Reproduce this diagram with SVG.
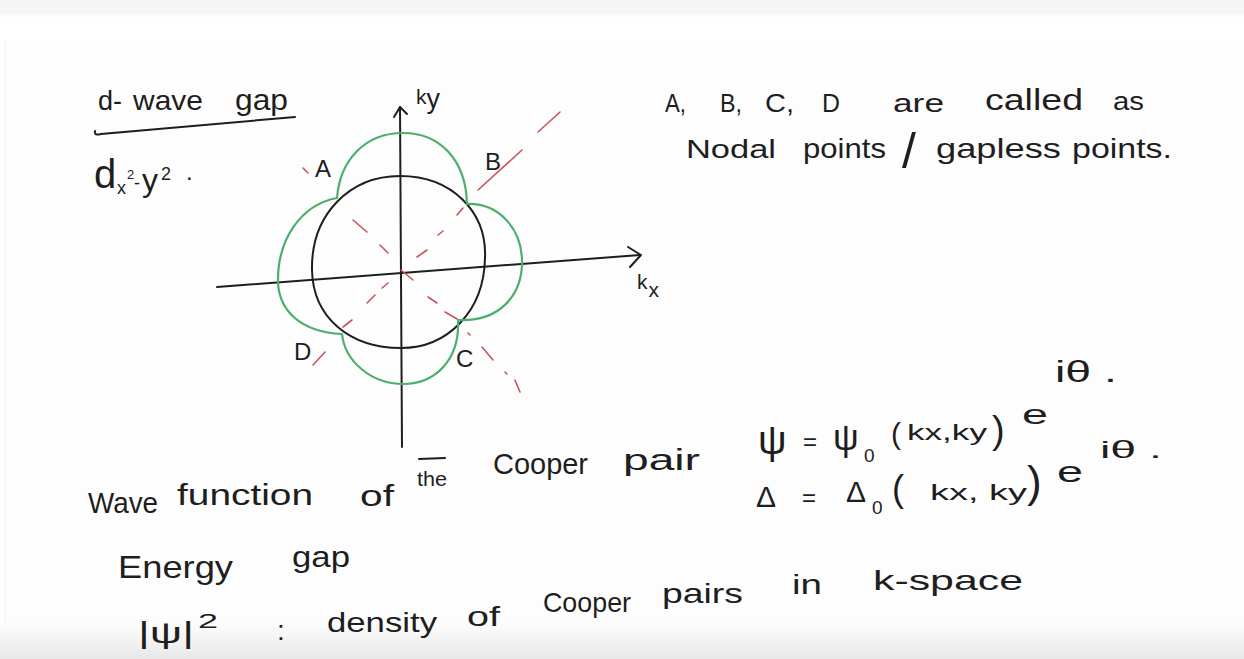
<svg xmlns="http://www.w3.org/2000/svg" width="1244" height="659" viewBox="0 0 1244 659">
<defs>
<linearGradient id="topg" x1="0" y1="0" x2="0" y2="1"><stop offset="0" stop-color="#f4f4f4"/><stop offset="0.7" stop-color="#f6f6f6"/><stop offset="1" stop-color="#ffffff"/></linearGradient>
<linearGradient id="botg" x1="0" y1="0" x2="0" y2="1"><stop offset="0" stop-color="#fdfdfd"/><stop offset="1" stop-color="#e8e8e8"/></linearGradient>
<style>
.t{font-family:"Liberation Sans","DejaVu Sans",sans-serif;fill:#1e1e1e}
.ln{stroke:#1e1e1e;stroke-width:2;fill:none;stroke-linecap:round;stroke-linejoin:round}
.gr{stroke:#4cae6c;stroke-width:2.2;fill:none;stroke-linejoin:round}
.rd{stroke:#c8545a;stroke-width:1.6;fill:none;stroke-linecap:round}
</style>
</defs>
<rect width="1244" height="659" fill="#ffffff"/>
<rect width="1244" height="18" fill="url(#topg)"/>
<rect x="5" y="40" width="1239" height="590" fill="#fdfdfd"/>
<line x1="5" y1="40" x2="5" y2="630" stroke="#f0f0f0" stroke-width="1"/>
<rect y="622" width="1244" height="37" fill="url(#botg)"/>

<g id="title">
<text class="t" x="98" y="110" font-size="28" textLength="24" lengthAdjust="spacingAndGlyphs">d-</text>
<text class="t" x="133" y="110" font-size="28" textLength="70" lengthAdjust="spacingAndGlyphs">wave</text>
<text class="t" x="235" y="110" font-size="30" textLength="53" lengthAdjust="spacingAndGlyphs">gap</text>
<path class="ln" d="M95,131 Q94,136 101,134 L295,117"/>
</g>

<g id="dsymbol">
<text class="t" x="94" y="188" font-size="40">d</text>
<text class="t" x="117" y="194" font-size="18">x</text>
<text class="t" x="127" y="179" font-size="13">2</text>
<text class="t" x="134" y="189" font-size="18">-</text>
<text class="t" x="142" y="191" font-size="32">y</text>
<text class="t" x="161" y="180" font-size="18">2</text>
<text class="t" x="186" y="180" font-size="24">.</text>
</g>

<g id="diagram">
<g id="axes">
<path class="ln" d="M402,447 L400,107"/>
<path class="ln" d="M394,117 L400,107 L407,114"/>
<path class="ln" d="M217,287 L640,255"/>
<path class="ln" d="M628,247 L641,255 L630,267"/>
<text class="t" x="416" y="104" font-size="21">k<tspan font-size="27" dy="4">y</tspan></text>
<text class="t" x="637" y="289" font-size="21">k<tspan font-size="21" dx="1" dy="8">x</tspan></text>
</g>
<path id="fermi" class="ln" d="M312,270 C311,214 350,176 400,176 C452,176 487,212 485,258 C484,312 447,348 401,348 C350,348 313,318 312,270 Z"/>
<path id="gap" class="gr" d="M337,198 C340,160 365,133 403,133 C440,133 466,160 467,204 C500,203 522,230 522,262 C522,295 500,322 458,320 C460,360 435,384 403,384 C372,384 345,362 342,334 C300,332 278,310 278,280 C278,240 300,205 337,198 Z"/>
<g id="nodal-lines">
<line class="rd" x1="417" y1="257" x2="427" y2="250"/>
<line class="rd" x1="438" y1="235" x2="443" y2="231"/>
<line class="rd" x1="457" y1="215" x2="463" y2="208"/>
<line class="rd" x1="478" y1="190" x2="522" y2="150"/>
<line class="rd" x1="538" y1="132" x2="560" y2="112"/>
<line class="rd" x1="303" y1="168" x2="308" y2="173"/>
<line class="rd" x1="353" y1="220" x2="367" y2="232"/>
<line class="rd" x1="380" y1="245" x2="388" y2="253"/>
<line class="rd" x1="388" y1="283" x2="382" y2="288"/>
<line class="rd" x1="375" y1="295" x2="367" y2="303"/>
<line class="rd" x1="352" y1="320" x2="343" y2="327"/>
<line class="rd" x1="325" y1="352" x2="313" y2="365"/>
<line class="rd" x1="401" y1="270" x2="413" y2="280"/>
<line class="rd" x1="428" y1="297" x2="437" y2="303"/>
<line class="rd" x1="445" y1="312" x2="457" y2="319"/>
<line class="rd" x1="468" y1="333" x2="470" y2="335"/>
<line class="rd" x1="482" y1="347" x2="493" y2="360"/>
<line class="rd" x1="505" y1="372" x2="507" y2="374"/>
<line class="rd" x1="515" y1="380" x2="520" y2="392"/>
</g>
<text class="t" x="315" y="177" font-size="24">A</text>
<text class="t" x="485" y="170" font-size="24">B</text>
<text class="t" x="456" y="367" font-size="24">C</text>
<text class="t" x="294" y="360" font-size="24">D</text>
</g>

<g id="nodal-note">
<text class="t" x="665" y="112" font-size="26" textLength="21" lengthAdjust="spacingAndGlyphs">A,</text>
<text class="t" x="720" y="112" font-size="26" textLength="22" lengthAdjust="spacingAndGlyphs">B,</text>
<text class="t" x="765" y="112" font-size="26" textLength="29" lengthAdjust="spacingAndGlyphs">C,</text>
<text class="t" x="822" y="112" font-size="26" textLength="18" lengthAdjust="spacingAndGlyphs">D</text>
<text class="t" x="893" y="112" font-size="26" textLength="51" lengthAdjust="spacingAndGlyphs">are</text>
<text class="t" x="985" y="110" font-size="30" textLength="98" lengthAdjust="spacingAndGlyphs">called</text>
<text class="t" x="1113" y="110" font-size="26" textLength="31" lengthAdjust="spacingAndGlyphs">as</text>
<text class="t" x="686" y="158" font-size="26" textLength="90" lengthAdjust="spacingAndGlyphs">Nodal</text>
<text class="t" x="803" y="158" font-size="28" textLength="83" lengthAdjust="spacingAndGlyphs">points</text>
<text class="t" x="902" y="168" font-size="50">/</text>
<text class="t" x="936" y="158" font-size="28" textLength="125" lengthAdjust="spacingAndGlyphs">gapless</text>
<text class="t" x="1072" y="158" font-size="28" textLength="100" lengthAdjust="spacingAndGlyphs">points.</text>
</g>

<g id="eq-psi">
<text class="t" x="758" y="454" font-size="40">ψ</text>
<text class="t" x="803" y="450" font-size="24">=</text>
<text class="t" x="833" y="450" font-size="36">ψ</text>
<text class="t" x="864" y="462" font-size="19">0</text>
<text class="t" x="891" y="444" font-size="30">(</text>
<text class="t" x="907" y="440" font-size="22" textLength="80" lengthAdjust="spacingAndGlyphs">kx,ky</text>
<text class="t" x="992" y="443" font-size="38">)</text>
<text class="t" x="1022" y="424" font-size="28" textLength="26" lengthAdjust="spacingAndGlyphs">e</text>
<text class="t" x="1055" y="382" font-size="30" textLength="62" lengthAdjust="spacingAndGlyphs">iθ .</text>
</g>

<g id="eq-delta">
<text class="t" x="756" y="507" font-size="30">Δ</text>
<text class="t" x="802" y="506" font-size="24">=</text>
<text class="t" x="846" y="502" font-size="30">Δ</text>
<text class="t" x="872" y="514" font-size="19">0</text>
<text class="t" x="892" y="501" font-size="36">(</text>
<text class="t" x="930" y="500" font-size="22" textLength="97" lengthAdjust="spacingAndGlyphs">kx, ky</text>
<text class="t" x="1027" y="497" font-size="44">)</text>
<text class="t" x="1057" y="482" font-size="30" textLength="26" lengthAdjust="spacingAndGlyphs">e</text>
<text class="t" x="1100" y="458" font-size="24" textLength="62" lengthAdjust="spacingAndGlyphs">iθ .</text>
</g>

<g id="wave-function">
<text class="t" x="88" y="513" font-size="30" textLength="70" lengthAdjust="spacingAndGlyphs">Wave</text>
<text class="t" x="177" y="505" font-size="30" textLength="136" lengthAdjust="spacingAndGlyphs">function</text>
<text class="t" x="360" y="506" font-size="30" textLength="34" lengthAdjust="spacingAndGlyphs">of</text>
<text class="t" x="417" y="486" font-size="20" textLength="30" lengthAdjust="spacingAndGlyphs">the</text>
<line class="ln" x1="419" y1="459" x2="445" y2="458" stroke-width="1.6"/>
<text class="t" x="493" y="474" font-size="30" textLength="95" lengthAdjust="spacingAndGlyphs">Cooper</text>
<text class="t" x="623" y="470" font-size="30" textLength="77" lengthAdjust="spacingAndGlyphs">pair</text>
</g>

<g id="energy-gap">
<text class="t" x="118" y="578" font-size="32" textLength="115" lengthAdjust="spacingAndGlyphs">Energy</text>
<text class="t" x="292" y="567" font-size="30" textLength="58" lengthAdjust="spacingAndGlyphs">gap</text>
</g>

<g id="density">
<text class="t" x="138" y="643" font-size="30" textLength="56" lengthAdjust="spacingAndGlyphs">|ψ|</text>
<text class="t" x="198" y="628" font-size="20" textLength="20" lengthAdjust="spacingAndGlyphs">2</text>
<text class="t" x="277" y="640" font-size="28">:</text>
<text class="t" x="327" y="632" font-size="28" textLength="110" lengthAdjust="spacingAndGlyphs">density</text>
<text class="t" x="467" y="626" font-size="28" textLength="33" lengthAdjust="spacingAndGlyphs">of</text>
<text class="t" x="543" y="612" font-size="28" textLength="88" lengthAdjust="spacingAndGlyphs">Cooper</text>
<text class="t" x="662" y="603" font-size="28" textLength="81" lengthAdjust="spacingAndGlyphs">pairs</text>
<text class="t" x="792" y="594" font-size="28" textLength="30" lengthAdjust="spacingAndGlyphs">in</text>
<text class="t" x="873" y="590" font-size="28" textLength="150" lengthAdjust="spacingAndGlyphs">k-space</text>
</g>
</svg>
